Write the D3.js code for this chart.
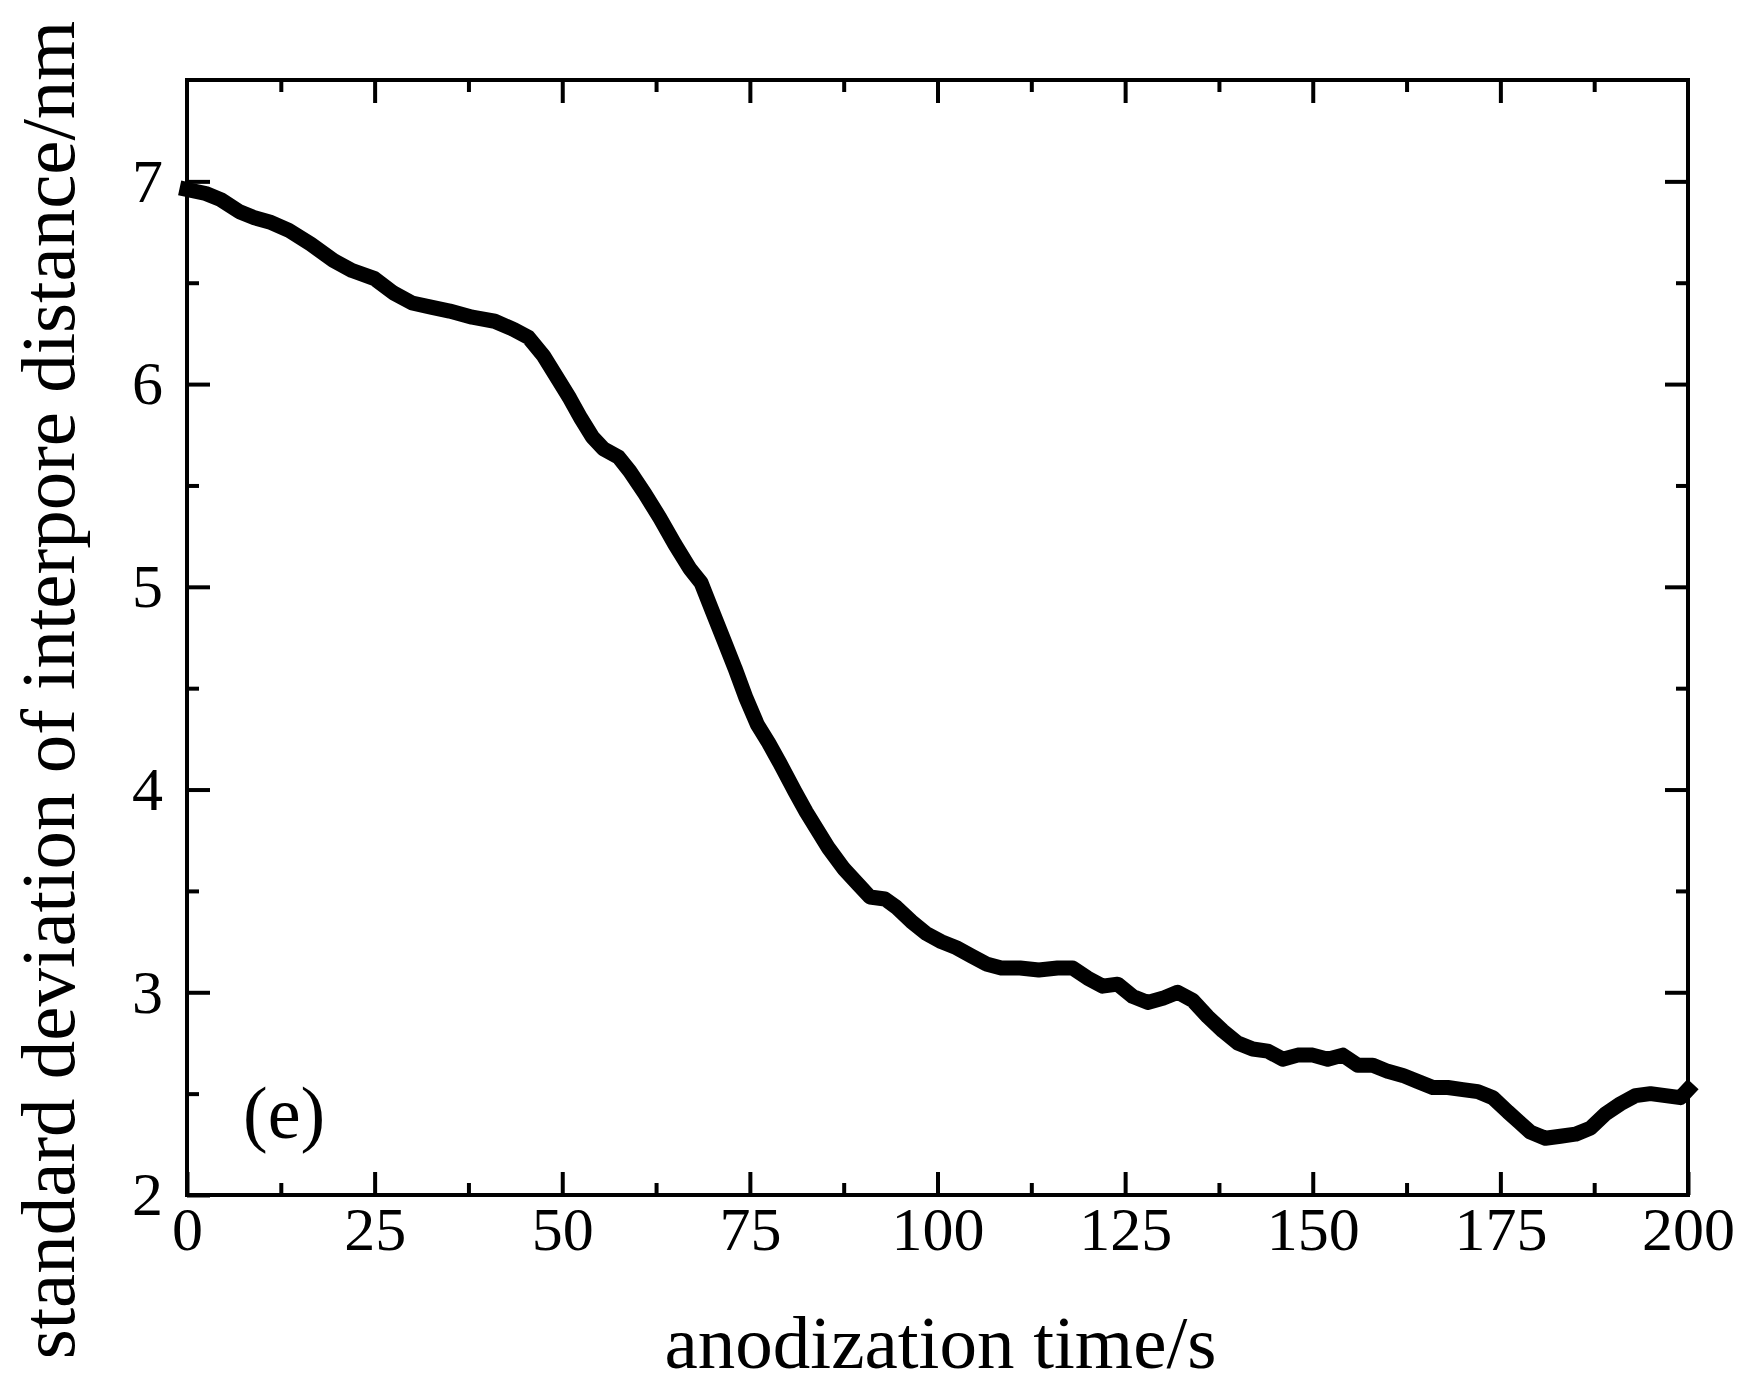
<!DOCTYPE html>
<html>
<head>
<meta charset="utf-8">
<script src="https://cdn.jsdelivr.net/npm/d3@7"></script>
<style>
    body { margin: 0; background: #fff; }
    svg { display: block; }
    text { font-family: "Liberation Serif", "Times New Roman", serif; fill: #000; }
</style>
</head>
<body>
<div class="chart-ctn"></div>
<script>
// anodization time (s) and standard deviation of interpore distance (nm)
const timeS = [0, 2.5, 4.5, 7, 9, 11, 13.5, 16.5, 19.5, 22, 25, 27.5, 30, 32.5, 35, 38, 41, 43.5, 45.5, 47.5,
    49.5, 51, 52.5, 54, 55.5, 57.5, 59, 61, 63, 65, 67, 68.5, 70, 71.5, 73, 74.5, 76, 77.5, 79, 81,
    82.5, 84, 85.5, 87.5, 89.5, 91, 93, 94.5, 96.5, 98.5, 100.5, 102.5, 104.5, 106.5, 108.5, 111, 113.5, 116, 118, 120,
    122, 124, 126, 128, 130, 132, 134, 136, 138, 140, 142, 144, 146, 148, 150, 152, 154, 156, 158, 160,
    162, 164, 166, 168, 170, 172, 174, 176, 177.5, 179, 181, 183, 185, 187, 189, 191, 193, 195, 197, 199, 200];
const stdDev = [6.96, 6.94, 6.91, 6.85, 6.82, 6.80, 6.76, 6.69, 6.61, 6.56, 6.52, 6.45, 6.40, 6.38, 6.36, 6.33, 6.31, 6.27, 6.23, 6.14,
    6.02, 5.93, 5.83, 5.74, 5.68, 5.64, 5.57, 5.46, 5.34, 5.21, 5.09, 5.02, 4.88, 4.74, 4.60, 4.45, 4.32, 4.23, 4.13, 3.99,
    3.89, 3.80, 3.71, 3.61, 3.53, 3.47, 3.46, 3.42, 3.35, 3.29, 3.25, 3.22, 3.18, 3.14, 3.12, 3.12, 3.11, 3.12, 3.12, 3.07,
    3.03, 3.04, 2.98, 2.95, 2.97, 3.00, 2.96, 2.88, 2.81, 2.75, 2.72, 2.71, 2.67, 2.69, 2.69, 2.67, 2.69, 2.64, 2.64, 2.61,
    2.59, 2.56, 2.53, 2.53, 2.52, 2.51, 2.48, 2.41, 2.36, 2.31, 2.28, 2.29, 2.30, 2.33, 2.40, 2.45, 2.49, 2.50, 2.49, 2.48, 2.52];

const xMajor = [0, 25, 50, 75, 100, 125, 150, 175, 200];
const xMinor = [12.5, 37.5, 62.5, 87.5, 112.5, 137.5, 162.5, 187.5];
const yMajor = [2, 3, 4, 5, 6, 7];
const yMinor = [2.5, 3.5, 4.5, 5.5, 6.5];

const w = 1745, h = 1390;
const padding = { left: 187, right: 57, top: 80, bottom: 195 };

const svg = d3.select('.chart-ctn')
    .append('svg')
    .attr('width', w)
    .attr('height', h)
    .style('background-color', 'white');

const x = d3.scaleLinear()
    .domain([0, 200])
    .range([padding.left, w - padding.right]);

const y = d3.scaleLinear()
    .domain([2, 7.5])
    .range([h - padding.bottom, padding.top]);

const pw = w - padding.left - padding.right;
const ph = h - padding.top - padding.bottom;

// ticks point inward on all four sides
function addAxis(axisFn, scale, values, size, labels, pad, transform) {
    let axis = axisFn(scale)
        .tickValues(values)
        .tickSizeInner(-size)
        .tickSizeOuter(0)
        .tickPadding(pad)
        .tickFormat(labels ? d3.format('d') : '');
    let g = svg.append('g')
        .attr('transform', transform)
        .call(axis);
    g.select('.domain').remove();
    g.selectAll('line').attr('stroke', '#000').attr('stroke-width', 4);
    g.selectAll('text')
        .attr('font-size', 62)
        .attr('font-family', '"Liberation Serif", "Times New Roman", serif');
    return g;
}

const bottomT = 'translate(0,' + (h - padding.bottom) + ')';
const leftT = 'translate(' + padding.left + ',0)';
const topT = 'translate(0,' + padding.top + ')';
const rightT = 'translate(' + (w - padding.right) + ',0)';

addAxis(d3.axisBottom, x, xMajor, 23, true, 11, bottomT);
addAxis(d3.axisBottom, x, xMinor, 12, false, 0, bottomT);
addAxis(d3.axisLeft, y, yMajor, 23, true, 24, leftT);
addAxis(d3.axisLeft, y, yMinor, 12, false, 0, leftT);
addAxis(d3.axisTop, x, xMajor.slice(1, -1), 23, false, 0, topT);
addAxis(d3.axisTop, x, xMinor, 12, false, 0, topT);
addAxis(d3.axisRight, y, yMajor.slice(1), 23, false, 0, rightT);
addAxis(d3.axisRight, y, yMinor, 12, false, 0, rightT);

svg.append('rect')
    .attr('x', padding.left)
    .attr('y', padding.top)
    .attr('width', pw)
    .attr('height', ph)
    .attr('fill', 'none')
    .attr('stroke', '#000')
    .attr('stroke-width', 4);

const points = timeS.map((t, i) => [t, stdDev[i]]);

svg.append('path')
    .datum(points)
    .attr('fill', 'none')
    .attr('stroke', '#000')
    .attr('stroke-width', 15)
    .attr('stroke-linejoin', 'round')
    .attr('stroke-linecap', 'square')
    .attr('d', d3.line()
        .x(d => x(d[0]))
        .y(d => y(d[1]))
    );

svg.append('text')
    .attr('x', 243)
    .attr('y', 1138)
    .attr('font-size', 74)
    .text('(e)');

svg.append('text')
    .attr('x', x(100) + 3)
    .attr('y', 1368)
    .attr('text-anchor', 'middle')
    .attr('font-size', 75)
    .text('anodization time/s');

svg.append('text')
    .attr('transform', 'translate(74,' + 690 + ') rotate(-90)')
    .attr('text-anchor', 'middle')
    .attr('font-size', 77)
    .text('standard deviation of interpore distance/nm');
</script>
</body>
</html>
